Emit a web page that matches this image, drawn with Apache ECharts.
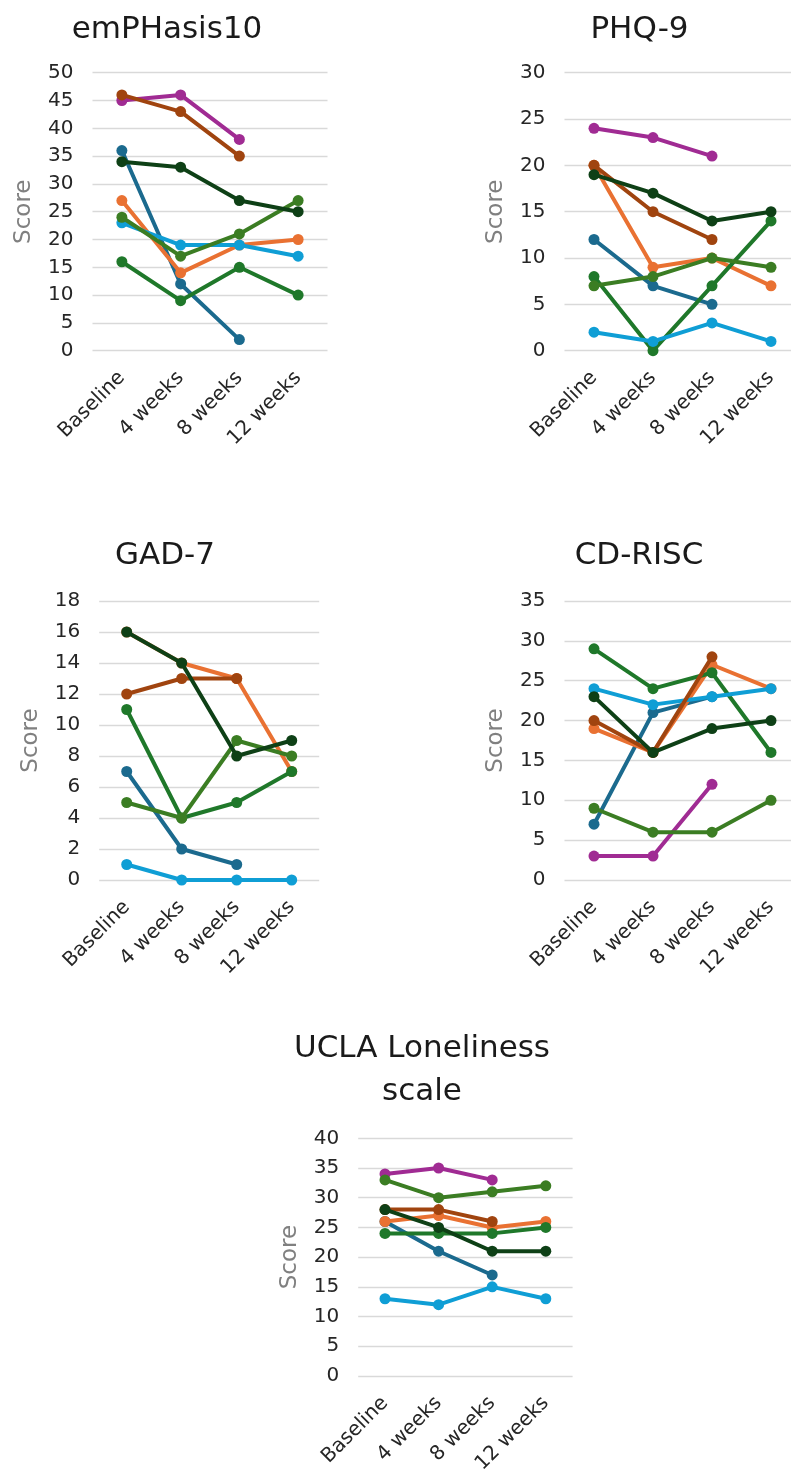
<!DOCTYPE html>
<html>
<head>
<meta charset="utf-8">
<script src="https://cdn.jsdelivr.net/npm/echarts@6/dist/echarts.min.js"></script>
<style>
  html, body { margin: 0; padding: 0; background: #ffffff; overflow: hidden; }
  #chart { width: 830px; height: 1469px; }
</style>
</head>
<body>
<div id="chart"></div>
<script>
// ---------- DATA ----------
const categories = ['Baseline', '4 weeks', '8 weeks', '12 weeks'];
const participants = ['P1', 'P2', 'P3', 'P4', 'P5', 'P6', 'P7', 'P8'];

// order of rows: P1..P8 (null = missing)
const emphasis10Scores = [
  [36, 12, 2, null],
  [27, 14, 19, 20],
  [16, 9, 15, 10],
  [23, 19, 19, 17],
  [45, 46, 38, null],
  [24, 17, 21, 27],
  [46, 43, 35, null],
  [34, 33, 27, 25]
];
const phq9Scores = [
  [12, 7, 5, null],
  [20, 9, 10, 7],
  [8, 0, 7, 14],
  [2, 1, 3, 1],
  [24, 23, 21, null],
  [7, 8, 10, 9],
  [20, 15, 12, null],
  [19, 17, 14, 15]
];
const gad7Scores = [
  [7, 2, 1, null],
  [16, 14, 13, 7],
  [11, 4, 5, 7],
  [1, 0, 0, 0],
  [null, null, null, null],
  [5, 4, 9, 8],
  [12, 13, 13, null],
  [16, 14, 8, 9]
];
const cdriscScores = [
  [7, 21, 23, null],
  [19, 16, 27, 24],
  [29, 24, 26, 16],
  [24, 22, 23, 24],
  [3, 3, 12, null],
  [9, 6, 6, 10],
  [20, 16, 28, null],
  [23, 16, 19, 20]
];
const uclaScores = [
  [26, 21, 17, null],
  [26, 27, 25, 26],
  [24, 24, 24, 25],
  [13, 12, 15, 13],
  [34, 35, 33, null],
  [33, 30, 31, 32],
  [28, 28, 26, null],
  [28, 25, 21, 21]
];

const panelTitles = ['emPHasis10', 'PHQ-9', 'GAD-7', 'CD-RISC', 'UCLA Loneliness\nscale'];
const yMax = [50, 30, 18, 35, 40];
const yStep = [5, 5, 2, 5, 5];

// ---------- STYLE ----------
const colors = ['#1B6A8E', '#E97132', '#1F782A', '#0F9ED5', '#A02B93', '#3B7D23', '#A0440F', '#0E4016'];
const FONT = 'DejaVu Sans';
const grids = [
  { left: 92.5, top: 72.7, width: 235, height: 278 },
  { left: 564.5, top: 72.7, width: 236, height: 278 },
  { left: 99.2, top: 601, width: 220, height: 279 },
  { left: 564.5, top: 601, width: 236, height: 279 },
  { left: 358.2, top: 1138.3, width: 214.4, height: 237.7 }
];
const titlePos = [
  { x: 167, y: 8 },
  { x: 639.5, y: 8 },
  { x: 165, y: 534 },
  { x: 639, y: 534 },
  { x: 422, y: 1027 }
];
const panelData = [emphasis10Scores, phq9Scores, gad7Scores, cdriscScores, uclaScores];

const option = {
  animation: false,
  backgroundColor: '#ffffff',
  title: panelTitles.map((t, i) => ({
    text: t,
    left: titlePos[i].x,
    top: titlePos[i].y,
    textAlign: 'center',
    padding: 0,
    textStyle: { fontFamily: FONT, fontSize: 31, fontWeight: 'normal', color: '#1a1a1a', lineHeight: 43 }
  })),
  grid: grids.map(g => Object.assign({ containLabel: false, outerBoundsMode: 'none' }, g)),
  xAxis: grids.map((g, i) => ({
    type: 'category',
    gridIndex: i,
    data: categories,
    boundaryGap: true,
    axisLine: { show: false },
    axisTick: { show: false },
    splitLine: { show: false },
    axisLabel: { interval: 0, rotate: 45, margin: 24, fontFamily: FONT, fontSize: 20, color: '#262626' }
  })),
  yAxis: grids.map((g, i) => ({
    type: 'value',
    gridIndex: i,
    min: 0,
    max: yMax[i],
    interval: yStep[i],
    name: 'Score',
    nameLocation: 'middle',
    nameGap: 57,
    nameTextStyle: { fontFamily: FONT, fontSize: 23, color: '#808080' },
    axisLine: { show: false },
    axisTick: { show: false },
    axisLabel: { margin: 19, fontFamily: FONT, fontSize: 20, color: '#262626' },
    splitLine: { show: true, lineStyle: { color: '#d9d9d9', width: 1.3 } }
  })),
  series: []
};

panelData.forEach((rows, p) => {
  rows.forEach((vals, k) => {
    if (vals.every(v => v === null)) return;
    option.series.push({
      type: 'line',
      name: participants[k],
      xAxisIndex: p,
      yAxisIndex: p,
      data: vals,
      connectNulls: false,
      symbol: 'circle',
      symbolSize: 11,
      showSymbol: true,
      lineStyle: { color: colors[k], width: 4 },
      itemStyle: { color: colors[k] },
      emphasis: { disabled: true },
      z: 2 + k
    });
  });
});

const chart = echarts.init(document.getElementById('chart'), null, { renderer: 'canvas' });
chart.setOption(option);
</script>
</body>
</html>
